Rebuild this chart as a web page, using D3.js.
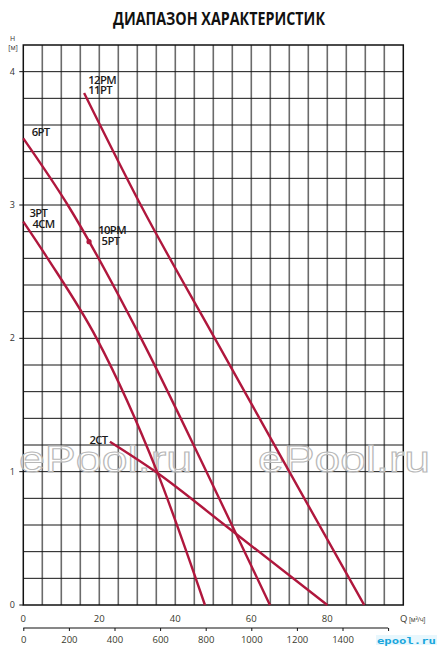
<!DOCTYPE html>
<html>
<head>
<meta charset="utf-8">
<script src="https://cdn.jsdelivr.net/npm/d3@7"></script>
<style>
  html, body { margin: 0; padding: 0; background: #fff; }
  svg { display: block; }
</style>
</head>
<body>
<svg id="chart" width="442" height="651"></svg>
<script>
// Flow Q in m³/h, head H in m
const curve12PM = { q: [16, 30.9, 50.4, 70.0, 89.7], h: [3.84, 3.0, 2.0, 1.0, 0] };
const curve6PT  = { q: [0, 11.7, 31.0, 48.2, 64.9], h: [3.5, 3.0, 2.0, 1.0, 0] };
const curve3PT  = { q: [0, 6.4, 19.3, 35.2, 47.8], h: [2.875, 2.6, 2.0, 1.0, 0] };
const curve2CT  = { q: [22.8, 35.3, 53.0, 80.0], h: [1.225, 0.99, 0.6, 0] };
const markerPoint = { q: 17.3, h: 2.725 };

const qTicks = [0, 20, 40, 60, 80];
const hTicks = [0, 1, 2, 3, 4];
const lminTicks = [0, 200, 400, 600, 800, 1000, 1200, 1400, 1600];

const svg = d3.select("#chart");
const plotL = 23.3, plotR = 403.3, plotT = 45, plotB = 605;

const x = d3.scaleLinear().domain([0, 100]).range([plotL, plotR]);
const y = d3.scaleLinear().domain([0, 4.2]).range([plotB, plotT]);
// l/min scale: 100 m³/h = 1666.67 l/min
const xl = d3.scaleLinear().domain([0, 100 * 1000 / 60]).range([plotL, plotR]);

// Title
svg.append("text")
  .attr("x", 113).attr("y", 25)
  .attr("textLength", 212).attr("lengthAdjust", "spacingAndGlyphs")
  .attr("font-family", "'Open Sans', sans-serif")
  .attr("font-weight", 700)
  .attr("font-size", 17)
  .attr("fill", "#111")
  .text("ДИАПАЗОН ХАРАКТЕРИСТИК");

// Grid
const grid = svg.append("g");
grid.selectAll("line.v").data(d3.range(5, 100, 5)).join("line")
  .attr("class", "v")
  .attr("x1", d => x(d)).attr("x2", d => x(d))
  .attr("y1", plotT).attr("y2", plotB)
  .attr("stroke", "#6b6b6b").attr("stroke-width", 1.6);
grid.selectAll("line.h").data(d3.range(1, 21).map(i => i * 0.2)).join("line")
  .attr("class", "h")
  .attr("x1", plotL).attr("x2", plotR)
  .attr("y1", d => y(d)).attr("y2", d => y(d))
  .attr("stroke", "#151515").attr("stroke-width", 1);
svg.append("rect")
  .attr("x", plotL).attr("y", plotT)
  .attr("width", plotR - plotL).attr("height", plotB - plotT)
  .attr("fill", "none").attr("stroke", "#111").attr("stroke-width", 1.5);

// Watermarks
const wm = svg.append("g");
[[19, 192], [258, 430]].forEach(([a, b]) => {
  wm.append("text")
    .attr("x", a).attr("y", 472)
    .attr("textLength", b - a).attr("lengthAdjust", "spacingAndGlyphs")
    .attr("font-family", "'Liberation Sans', Arial, sans-serif")
    .attr("font-size", 36)
    .attr("fill", "#fff").attr("fill-opacity", 0.55)
    .attr("stroke", "#b8b8b8").attr("stroke-width", 1)
    .text("ePool.ru");
});

// Y axis labels and ticks
const yAx = svg.append("g").attr("font-family", "'Open Sans', sans-serif").attr("font-size", 9).attr("fill", "#333");
yAx.selectAll("text").data(hTicks).join("text")
  .attr("x", 15).attr("y", d => y(d) + 3)
  .attr("text-anchor", "end")
  .text(d => d);
yAx.selectAll("line").data(hTicks).join("line")
  .attr("x1", plotL - 4).attr("x2", plotL)
  .attr("y1", d => y(d)).attr("y2", d => y(d))
  .attr("stroke", "#111").attr("stroke-width", 1);
const hLabel = svg.append("text").attr("text-anchor", "middle")
  .attr("font-family", "'Open Sans', sans-serif").attr("font-size", 7).attr("fill", "#333");
hLabel.append("tspan").attr("x", 12.5).attr("y", 41).text("H");
hLabel.append("tspan").attr("x", 13).attr("y", 50).text("[м]");

// X axis labels (m³/h)
const xAx = svg.append("g").attr("font-family", "'Open Sans', sans-serif").attr("font-size", 9.5).attr("fill", "#3a3a2e");
xAx.selectAll("text").data(qTicks).join("text")
  .attr("x", d => x(d)).attr("y", 621.5)
  .attr("text-anchor", "middle")
  .text(d => d);
const qLabel = svg.append("text").attr("x", 400).attr("y", 621.5)
  .attr("font-family", "'Open Sans', sans-serif").attr("fill", "#3a3a2e");
qLabel.append("tspan").attr("font-size", 9.5).text("Q");
qLabel.append("tspan").attr("dx", 1.5).attr("font-size", 6.5).attr("letter-spacing", -0.2).text("[м³/ч]");

// Secondary axis (l/min)
const axL = svg.append("g")
  .attr("transform", `translate(0,628)`)
  .call(d3.axisBottom(xl).tickValues(lminTicks).tickSize(3).tickSizeOuter(0).tickFormat(d => d === 1600 ? "" : d));
axL.select(".domain").attr("stroke", "#111").attr("stroke-width", 1.2)
  .attr("d", `M${plotL},0H${xl(1600)}`);
axL.selectAll(".tick line").attr("stroke", "#111");
axL.selectAll(".tick text")
  .attr("font-family", "'Open Sans', sans-serif").attr("font-size", 9.5).attr("fill", "#3a3a2e").attr("dy", "0.9em");

// Pump curves
const line = d3.line().x(d => x(d[0])).y(d => y(d[1])).curve(d3.curveMonotoneX);
const curves = [curve12PM, curve6PT, curve3PT, curve2CT];
svg.append("g").selectAll("path").data(curves).join("path")
  .attr("d", c => line(c.q.map((q, i) => [q, c.h[i]])))
  .attr("fill", "none")
  .attr("stroke", "#b0173d")
  .attr("stroke-width", 2.4)
  .attr("stroke-linecap", "butt");
svg.append("circle")
  .attr("cx", x(markerPoint.q)).attr("cy", y(markerPoint.h)).attr("r", 2.6)
  .attr("fill", "#b0173d");

// Curve labels (anchored in data units), two-line names share one text
const labels = [
  { lines: ["12PM", "11PT"], q: 17.1, h: 3.91 },
  { lines: ["6PT"], q: 2.2, h: 3.52 },
  { lines: ["3PT", "4CM"], q: 1.6, h: 2.91, indent: 3 },
  { lines: ["10PM", "5PT"], q: 19.7, h: 2.78, indent: 3.4 },
  { lines: ["2CT"], q: 17.4, h: 1.21 }
];
const lab = svg.append("g").selectAll("text").data(labels).join("text")
  .attr("font-family", "'Open Sans', sans-serif")
  .attr("font-weight", 600)
  .attr("font-size", 11.3)
  .attr("letter-spacing", -0.6)
  .attr("fill", "#1a1a1a");
lab.each(function (d) {
  const t = d3.select(this);
  d.lines.forEach((s, i) => {
    t.append("tspan")
      .attr("x", x(d.q) + (i > 0 ? (d.indent || 0) : 0))
      .attr("y", y(d.h) + i * 10.5)
      .text(s);
  });
});

// Site badge
const badge = svg.append("g").attr("transform", "translate(376,635)");
badge.append("rect").attr("width", 61).attr("height", 10).attr("fill", "#e8f7fd");
badge.append("text").attr("x", 30.5).attr("y", 8.5).attr("text-anchor", "middle")
  .attr("font-family", "'DejaVu Sans Mono', monospace").attr("font-weight", 700)
  .attr("font-size", 9.5).attr("fill", "#1aa6dc")
  .attr("textLength", 59).attr("lengthAdjust", "spacingAndGlyphs")
  .text("epool.ru");
</script>
</body>
</html>
